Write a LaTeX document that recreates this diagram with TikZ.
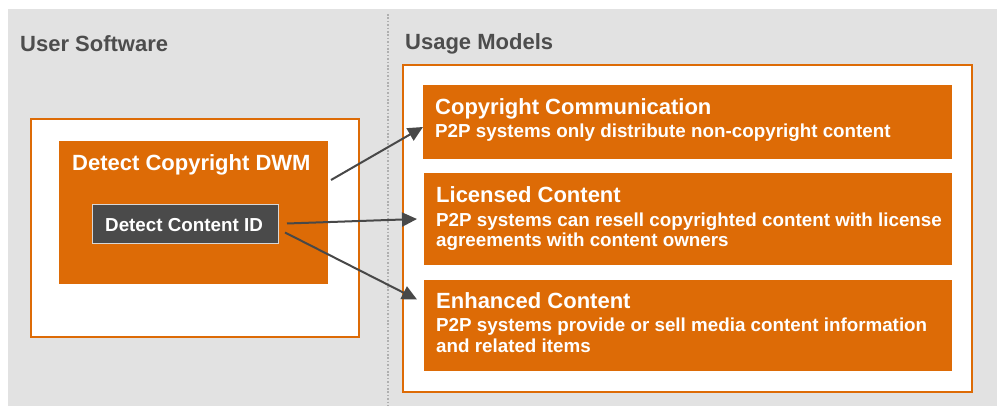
\documentclass[tikz,border=0pt]{standalone}
\usepackage{fontspec}
\setmainfont{Liberation Sans}
\usetikzlibrary{arrows.meta,calc}
\definecolor{org}{RGB}{221,107,6}
\definecolor{bggray}{RGB}{226,226,226}
\definecolor{darkbox}{RGB}{74,74,74}
\definecolor{headgray}{RGB}{77,77,77}
\definecolor{arrgray}{RGB}{72,72,72}
\definecolor{dotgray}{RGB}{175,175,175}
\definecolor{cidborder}{RGB}{215,215,215}
\begin{document}
\begin{tikzpicture}[x=1pt,y=-1pt,
  box/.style={rectangle, anchor=north west, inner sep=0pt, outer sep=0pt},
  panel/.style={box, fill=white, draw=org, line width=1.8pt},
  obox/.style={box, fill=org},
  head/.style={anchor=base west, inner sep=0pt, text=headgray, font=\bfseries\fontsize{22}{26}\selectfont},
  ttl/.style={anchor=base west, inner sep=0pt, text=white, font=\bfseries\fontsize{22}{26}\selectfont},
  sub/.style={anchor=base west, inner sep=0pt, text=white, font=\bfseries\fontsize{18.8}{21}\selectfont},
  arr/.style={draw=arrgray, line width=2pt, -{Triangle[length=15pt,width=14pt]}}
]
\useasboundingbox (0,0) rectangle (1004,406);
\fill[bggray] (8,9) rectangle (997,406);
\coordinate (dtop) at (388,14);
\coordinate (dbot) at (388,406);
\draw[dotgray, line width=1.6pt, dash pattern=on 1.6pt off 1.8pt] (dtop) -- (dbot);

\node[head] (hus) at (20,52) {User Software};
\node[head] (hum) at (405,50) {Usage Models};

% left side
\node[panel, minimum width=328pt, minimum height=218pt] (lpanel) at (31,119) {};
\node[obox, minimum width=269pt, minimum height=143pt] (dwm) at (59,141) {};
\node[ttl] (dwmt) at (72,171) {Detect Copyright DWM};
\node[box, fill=darkbox, draw=cidborder, line width=1pt, minimum width=186pt, minimum height=39pt] (cid) at (92,205) {};
\node[sub] (cidt) at (105,231.5) {Detect Content ID};

% right side
\node[panel, minimum width=569pt, minimum height=327pt] (rpanel) at (403,65) {};
\node[obox, minimum width=529pt, minimum height=74pt] (cc) at (423,85) {};
\node[obox, minimum width=528pt, minimum height=92pt] (lc) at (424,173) {};
\node[obox, minimum width=528pt, minimum height=91pt] (ec) at (424,280) {};

\node[ttl] (cct) at (435,115) {Copyright Communication};
\node[sub] (ccs) at (435,138) {P2P systems only distribute non-copyright content};

\node[ttl] (lct) at (436,203) {Licensed Content};
\node[sub] (lcs1) at (436,226) {P2P systems can resell copyrighted content with license};
\node[sub] (lcs2) at (436,246.5) {agreements with content owners};

\node[ttl] (ect) at (436,308) {Enhanced Content};
\node[sub] (ecs1) at (436,331.5) {P2P systems provide or sell media content information};
\node[sub] (ecs2) at (436,352) {and related items};

% arrows
\draw[arr] ($(dwm.north east)+(3,39)$) -- ($(cc.west)+(0,5)$);
\draw[arr] ($(cid.east)+(9,-1)$) -- ($(lc.west)+(-7,0)$);
\draw[arr] ($(cid.east)+(7,8)$) -- ($(ec.west)+(-7,-26)$);
\end{tikzpicture}
\end{document}
